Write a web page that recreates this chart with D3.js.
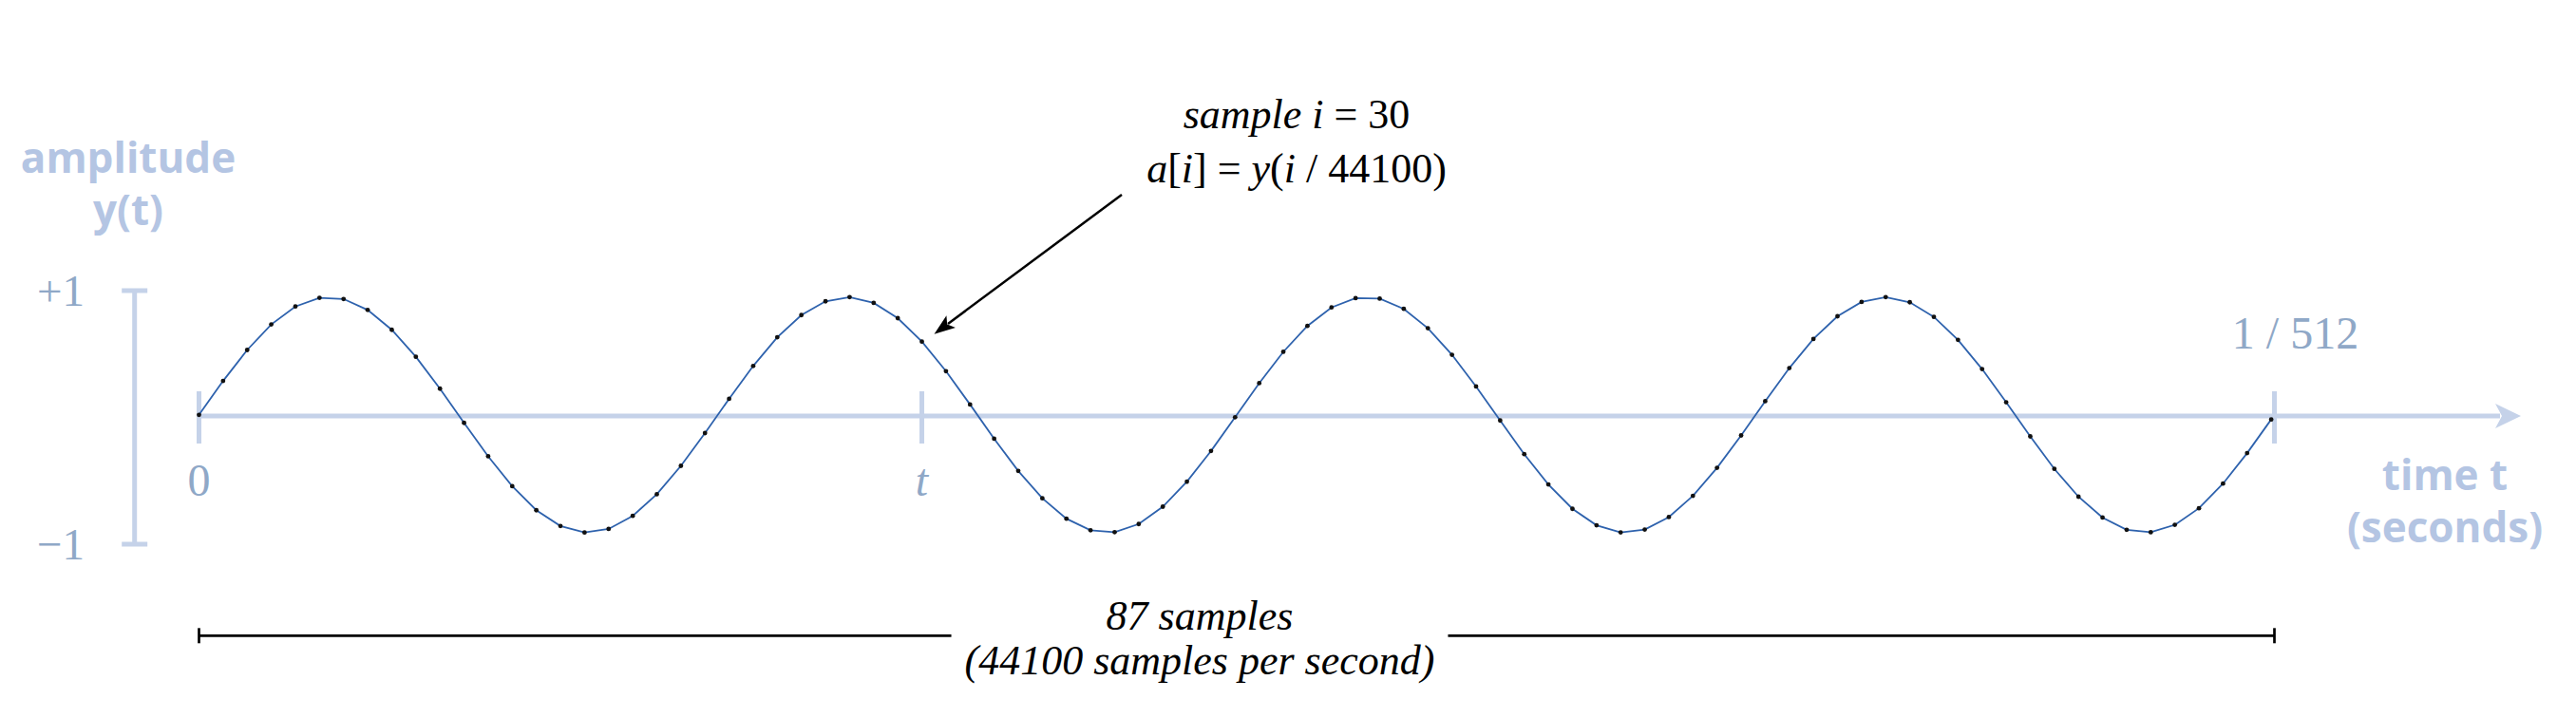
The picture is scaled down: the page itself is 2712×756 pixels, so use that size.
<!DOCTYPE html>
<html>
<head>
<meta charset="utf-8">
<script src="https://cdn.jsdelivr.net/npm/d3@7"></script>
<style>
  html, body { margin: 0; padding: 0; background: #ffffff; }
  svg { display: block; }
</style>
</head>
<body>
<svg id="chart" width="2712" height="756"></svg>
<script>
// ---- data ----
const sampleRate = 44100;           // samples per second
const duration = 1 / 512;           // seconds shown on the time axis
const sampleCount = 87;             // samples in the window
const highlightedSample = 30;       // sample i = 30
// amplitude a[i] of each sample, i = 0 .. 86
const amplitudes = [
  0.000, 0.288, 0.551, 0.768, 0.920, 0.994, 0.984, 0.891, 0.722, 0.493,
  0.222, -0.068, -0.352, -0.606, -0.810, -0.944, -0.999, -0.969, -0.858, -0.674,
  -0.433, -0.155, 0.136, 0.415, 0.659, 0.847, 0.964, 1.000, 0.951, 0.821,
  0.622, 0.371, 0.088, -0.203, -0.476, -0.709, -0.882, -0.980, -0.996, -0.927,
  -0.780, -0.567, -0.307, -0.020, 0.269, 0.535, 0.755, 0.912, 0.991, 0.987,
  0.900, 0.736, 0.510, 0.241, -0.048, -0.334, -0.591, -0.798, -0.938, -0.998,
  -0.974, -0.868, -0.688, -0.450, -0.175, 0.116, 0.397, 0.644, 0.837, 0.959,
  1.000, 0.956, 0.832, 0.637, 0.389, 0.107, -0.183, -0.459, -0.695, -0.872,
  -0.976, -0.997, -0.934, -0.793, -0.584, -0.325, -0.039
];
const timeTickLabels = ["0", "t", "1 / 512"];
const ampTickLabels = ["+1", "\u22121"];
const ampTicks = [1, -1];

// ---- styling ----
const axisColor = "#c5d2e9";
const tickLabelColor = "#8fa8c7";
const titleColor = "#b4c5e3";
const waveColor = "#2e62ad";
const serif = "'Liberation Serif', 'Times New Roman', serif";
const sans = "'Open Sans', 'Noto Sans', sans-serif";

const svg = d3.select("#chart");

// scales
const x = d3.scaleLinear().domain([0, duration]).range([209.5, 2394.5]);
const y = d3.scaleLinear().domain([-1, 1]).range([436.8 + 124, 436.8 - 124]);
const yBar = d3.scaleLinear().domain([-1, 1]).range([573, 306]);
const axisY = 438;

const samples = amplitudes.map((a, i) => ({ i, t: i / sampleRate, a }));

// ---- time axis ----
svg.append("line")
  .attr("x1", x(0)).attr("x2", 2632)
  .attr("y1", axisY).attr("y2", axisY)
  .attr("stroke", axisColor).attr("stroke-width", 5);
svg.append("path")
  .attr("d", `M2654,${axisY} L2627,${axisY - 13} L2634,${axisY} L2627,${axisY + 13} Z`)
  .attr("fill", axisColor);

const timeTicks = [0, highlightedSample / sampleRate, duration];
svg.selectAll("line.tt").data(timeTicks).join("line")
  .attr("class", "tt")
  .attr("x1", d => x(d)).attr("x2", d => x(d))
  .attr("y1", axisY - 26).attr("y2", axisY + 29)
  .attr("stroke", axisColor).attr("stroke-width", 5);

// tick labels
svg.append("text").attr("x", x(timeTicks[0])).attr("y", 521.5)
  .attr("text-anchor", "middle").attr("font-family", serif).attr("font-size", 48)
  .attr("fill", tickLabelColor).text(timeTickLabels[0]);
svg.append("text").attr("x", x(timeTicks[1])).attr("y", 521.5)
  .attr("text-anchor", "middle").attr("font-family", serif).attr("font-size", 48)
  .attr("font-style", "italic")
  .attr("fill", tickLabelColor).text(timeTickLabels[1]);
svg.append("text").attr("x", x(timeTicks[2]) + 22).attr("y", 366.5)
  .attr("text-anchor", "middle").attr("font-family", serif).attr("font-size", 48)
  .attr("fill", tickLabelColor).text(timeTickLabels[2]);

// axis title
const tTitle = svg.append("text").attr("text-anchor", "middle")
  .attr("font-family", sans).attr("font-weight", "bold").attr("font-size", 44)
  .attr("fill", titleColor);
tTitle.append("tspan").attr("x", 2574).attr("y", 516).text("time t");
tTitle.append("tspan").attr("x", 2574).attr("y", 571).text("(seconds)");

// ---- amplitude bar ----
const barX = 141.7;
svg.append("line")
  .attr("x1", barX).attr("x2", barX)
  .attr("y1", yBar(1)).attr("y2", yBar(-1))
  .attr("stroke", axisColor).attr("stroke-width", 5);
svg.selectAll("line.cap").data(ampTicks).join("line")
  .attr("class", "cap")
  .attr("x1", barX - 13.5).attr("x2", barX + 13.5)
  .attr("y1", d => yBar(d)).attr("y2", d => yBar(d))
  .attr("stroke", axisColor).attr("stroke-width", 5);
svg.selectAll("text.amp").data(ampTicks).join("text")
  .attr("class", "amp")
  .attr("x", 89).attr("y", d => yBar(d) + 15.5)
  .attr("text-anchor", "end").attr("font-family", serif).attr("font-size", 47)
  .attr("fill", tickLabelColor)
  .text((d, k) => ampTickLabels[k]);

const aTitle = svg.append("text").attr("text-anchor", "middle")
  .attr("font-family", sans).attr("font-weight", "bold").attr("font-size", 44)
  .attr("fill", titleColor);
aTitle.append("tspan").attr("x", 135).attr("y", 182).text("amplitude");
aTitle.append("tspan").attr("x", 135).attr("y", 237).text("y(t)");

// ---- waveform ----
const line = d3.line().x(d => x(d.t)).y(d => y(d.a));
svg.append("path").datum(samples)
  .attr("d", line)
  .attr("fill", "none").attr("stroke", waveColor).attr("stroke-width", 1.8);
svg.selectAll("circle.s").data(samples).join("circle")
  .attr("class", "s")
  .attr("cx", d => x(d.t)).attr("cy", d => y(d.a))
  .attr("r", 2.4).attr("fill", "#111");

// ---- annotation ----
const ann = svg.append("g").attr("font-family", serif).attr("font-size", 44).attr("fill", "#000");
const l1 = ann.append("text").attr("x", 1365).attr("y", 135).attr("text-anchor", "middle");
l1.append("tspan").attr("font-style", "italic").text("sample i");
l1.append("tspan").text(" = " + highlightedSample);
const l2 = ann.append("text").attr("x", 1365).attr("y", 192).attr("text-anchor", "middle");
[["a", true], ["[", false], ["i", true], ["] = ", false], ["y", true], ["(", false], ["i", true],
 [" / " + sampleRate + ")", false]].forEach(([s, it]) => {
  l2.append("tspan").attr("font-style", it ? "italic" : "normal").text(s);
});

// arrow pointing at sample 30
const hs = samples[highlightedSample];
const tip = [x(hs.t) + 13, y(hs.a) - 8];
const start = [1181, 205];
const ang = Math.atan2(tip[1] - start[1], tip[0] - start[0]);
const headLen = 22, headW = 8;
const base = [tip[0] - headLen * Math.cos(ang), tip[1] - headLen * Math.sin(ang)];
svg.append("line")
  .attr("x1", start[0]).attr("y1", start[1])
  .attr("x2", base[0] + 4 * Math.cos(ang)).attr("y2", base[1] + 4 * Math.sin(ang))
  .attr("stroke", "#000").attr("stroke-width", 2.5);
svg.append("path")
  .attr("d", `M${tip[0]},${tip[1]} L${base[0] - headW * Math.sin(ang)},${base[1] + headW * Math.cos(ang)} L${base[0] + 5 * Math.cos(ang)},${base[1] + 5 * Math.sin(ang)} L${base[0] + headW * Math.sin(ang)},${base[1] - headW * Math.cos(ang)} Z`)
  .attr("fill", "#000");

// ---- sample count bracket ----
const bracketY = 669.3;
const bt = svg.append("g").attr("font-family", serif).attr("font-size", 44)
  .attr("font-style", "italic").attr("fill", "#000").attr("text-anchor", "middle");
bt.append("text").attr("x", 1263).attr("y", 663).text(sampleCount + " samples");
const bt2 = bt.append("text").attr("x", 1263).attr("y", 710).text("(" + sampleRate + " samples per second)");
const bb = bt2.node().getBBox();
const gapL = bb.x - 14, gapR = bb.x + bb.width + 14;
const x0 = x(0), x1 = x(duration);
[[x0, gapL], [gapR, x1]].forEach(([a, b]) => {
  svg.append("line").attr("x1", a).attr("x2", b).attr("y1", bracketY).attr("y2", bracketY)
    .attr("stroke", "#000").attr("stroke-width", 2.7);
});
[x0, x1].forEach(v => {
  svg.append("line").attr("x1", v).attr("x2", v).attr("y1", bracketY - 8).attr("y2", bracketY + 8)
    .attr("stroke", "#000").attr("stroke-width", 2.7);
});
</script>
</body>
</html>
